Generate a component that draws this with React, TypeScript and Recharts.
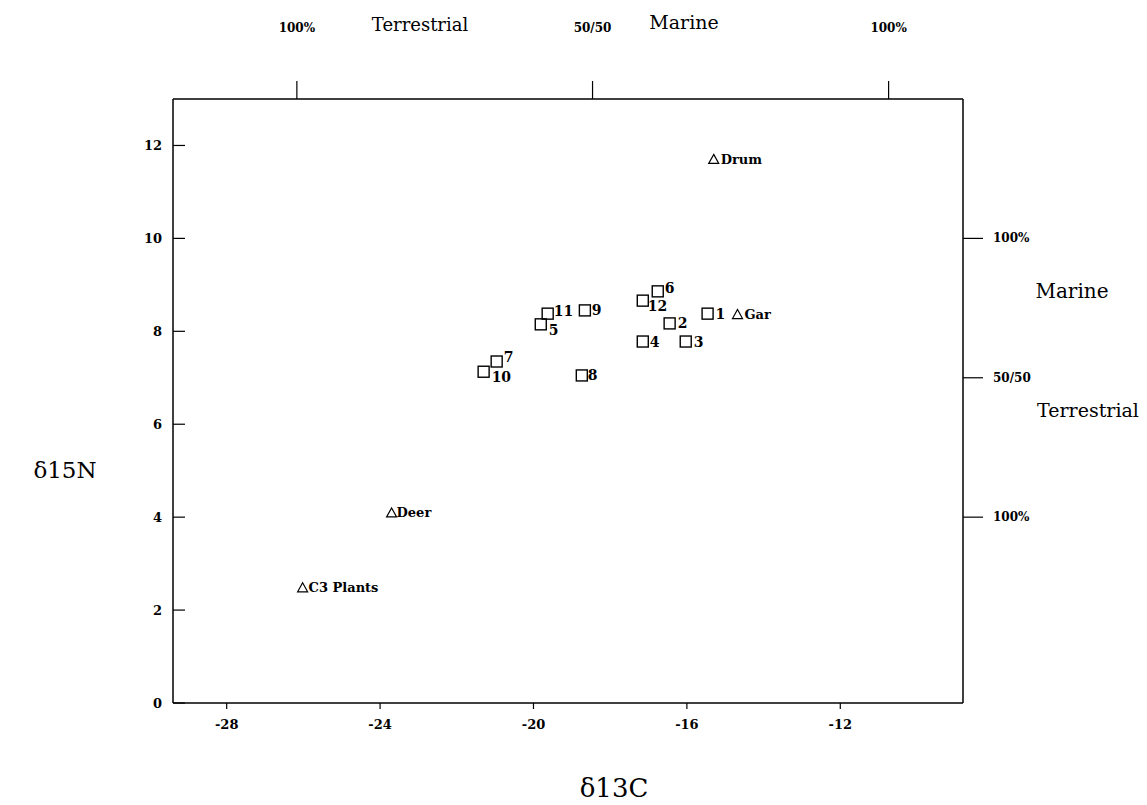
import { ScatterChart, Scatter, XAxis, YAxis } from "recharts";

// skeletal samples (open squares)
const sampleIds = ["1", "2", "3", "4", "5", "6", "7", "8", "9", "10", "11", "12"];
const sampleC13 = [-15.46, -16.45, -16.03, -17.15, -19.81, -16.76, -20.96, -18.74, -18.66, -21.3, -19.63, -17.15];
const sampleN15 = [8.38, 8.17, 7.78, 7.78, 8.15, 8.86, 7.35, 7.05, 8.45, 7.13, 8.38, 8.66];

// food sources (open triangles)
const foodNames = ["Drum", "Gar", "Deer", "C3 Plants"];
const foodC13 = [-15.3, -14.68, -23.7, -26.02];
const foodN15 = [11.7, 8.36, 4.09, 2.48];

const bottomTicks = [-28, -24, -20, -16, -12];
const leftTicks = [0, 2, 4, 6, 8, 10, 12];
const topTicks = [-26.17, -18.46, -10.74];
const topTickLabels = ["100%", "50/50", "100%"];
const rightTicks = [4, 7, 10];
const rightTickLabels = ["100%", "50/50", "100%"];

// label nudges (dx, dy) from marker centre
const labelNudge: Record<string, [number, number]> = {
  "1": [8, 0], "2": [8, 0], "3": [8, 0], "4": [7, 0], "5": [8, 6], "6": [7, -3],
  "7": [7, -5], "8": [6, 0], "9": [7, 0], "10": [8, 5], "11": [6, -3], "12": [5, 5],
  Drum: [7, 0], Gar: [7, 0], Deer: [5, 0], "C3 Plants": [6, 0],
};

const samples = sampleIds.map((id, i) => ({ name: id, x: sampleC13[i], y: sampleN15[i] }));
const foods = foodNames.map((n, i) => ({ name: n, x: foodC13[i], y: foodN15[i] }));

const FONT = "'DejaVu Serif', 'Liberation Serif', serif";

const SquareMark = (props: any) => {
  const { cx, cy, payload } = props;
  const [dx, dy] = labelNudge[payload.name] || [7, 0];
  return (
    <g>
      <rect x={cx - 5.5} y={cy - 5.5} width={11} height={11} fill="none" stroke="#000" strokeWidth={1.4} />
      <text x={cx + dx} y={cy + dy} dominantBaseline="central" fontFamily={FONT} fontWeight="bold" fontSize={14} fill="#000">
        {payload.name}
      </text>
    </g>
  );
};

const TriangleMark = (props: any) => {
  const { cx, cy, payload } = props;
  const [dx, dy] = labelNudge[payload.name] || [7, 0];
  return (
    <g>
      <path d={`M${cx},${cy - 5} L${cx + 5},${cy + 4} L${cx - 5},${cy + 4} Z`} fill="none" stroke="#000" strokeWidth={1.2} />
      <text x={cx + dx} y={cy + dy} dominantBaseline="central" fontFamily={FONT} fontWeight="bold" fontSize={13} fill="#000">
        {payload.name}
      </text>
    </g>
  );
};

const LeftTick = (props: any) => {
  const { x, y, payload } = props;
  return (
    <g>
      <line x1={x} y1={y} x2={x + 12} y2={y} stroke="#000" strokeWidth={1.2} />
      <text x={x - 11} y={y} textAnchor="end" dominantBaseline="central" fontFamily={FONT} fontWeight="bold" fontSize={13} fill="#000">
        {payload.value}
      </text>
    </g>
  );
};

const BottomTick = (props: any) => {
  const { x, y, payload } = props;
  return (
    <text x={x} y={y} textAnchor="middle" dy="0.71em" fontFamily={FONT} fontWeight="bold" fontSize={13} fill="#000">
      {payload.value}
    </text>
  );
};

const TopTick = (props: any) => {
  const { x, y, index } = props;
  return (
    <text x={x} y={y - 49} textAnchor="middle" fontFamily={FONT} fontWeight="bold" fontSize={12} fill="#000">
      {topTickLabels[index]}
    </text>
  );
};

const RightTick = (props: any) => {
  const { x, y, index } = props;
  return (
    <text x={x} y={y} textAnchor="start" dominantBaseline="central" fontFamily={FONT} fontWeight="bold" fontSize={12} fill="#000">
      {rightTickLabels[index]}
    </text>
  );
};

const titleStyle = (left: number, top: number, size: number): React.CSSProperties => ({
  position: "absolute",
  left,
  top,
  transform: "translate(-50%, -50%)",
  fontFamily: FONT,
  fontSize: size,
  color: "#000",
  whiteSpace: "nowrap",
});

export default function App() {
  const axisLine = { stroke: "#000", strokeWidth: 1.5 };
  return (
    <div style={{ position: "relative", width: 1131, height: 790, background: "#fff" }}>
      <ScatterChart width={1131} height={790} margin={{ top: 61, right: 116, bottom: 55, left: 115 }}>
        <XAxis
          xAxisId="bottom"
          type="number"
          dataKey="x"
          orientation="bottom"
          domain={[-29.4, -8.8]}
          allowDataOverflow
          ticks={bottomTicks}
          height={40}
          tickSize={6}
          tickMargin={11}
          axisLine={axisLine}
          tickLine={{ stroke: "#000", strokeWidth: 1.2 }}
          tick={<BottomTick />}
        />
        <XAxis
          xAxisId="top"
          type="number"
          dataKey="x"
          orientation="top"
          domain={[-29.4, -8.8]}
          allowDataOverflow
          ticks={topTicks}
          height={30}
          tickSize={18}
          tickMargin={0}
          axisLine={axisLine}
          tickLine={{ stroke: "#000", strokeWidth: 1.2 }}
          tick={<TopTick />}
        />
        <YAxis
          yAxisId="left"
          type="number"
          dataKey="y"
          orientation="left"
          domain={[0, 13]}
          allowDataOverflow
          ticks={leftTicks}
          width={50}
          tickSize={0}
          tickMargin={0}
          axisLine={axisLine}
          tickLine={false}
          tick={<LeftTick />}
        />
        <YAxis
          yAxisId="right"
          type="number"
          dataKey="y"
          orientation="right"
          domain={[0, 13]}
          allowDataOverflow
          ticks={rightTicks}
          width={60}
          tickSize={20}
          tickMargin={10}
          axisLine={axisLine}
          tickLine={{ stroke: "#000", strokeWidth: 1.2 }}
          tick={<RightTick />}
        />
        <Scatter
          name="samples"
          data={samples}
          xAxisId="bottom"
          yAxisId="left"
          shape={<SquareMark />}
          isAnimationActive={false}
        />
        <Scatter
          name="foods"
          data={foods}
          xAxisId="top"
          yAxisId="right"
          shape={<TriangleMark />}
          isAnimationActive={false}
        />
      </ScatterChart>
      <div style={titleStyle(412, 16, 18)}>Terrestrial</div>
      <div style={titleStyle(676, 14, 19)}>Marine</div>
      <div style={titleStyle(1064, 283, 20)}>Marine</div>
      <div style={titleStyle(1080, 402, 19)}>Terrestrial</div>
      <div style={titleStyle(57, 462, 23)}>δ15N</div>
      <div style={titleStyle(606, 780, 26)}>δ13C</div>
    </div>
  );
}
